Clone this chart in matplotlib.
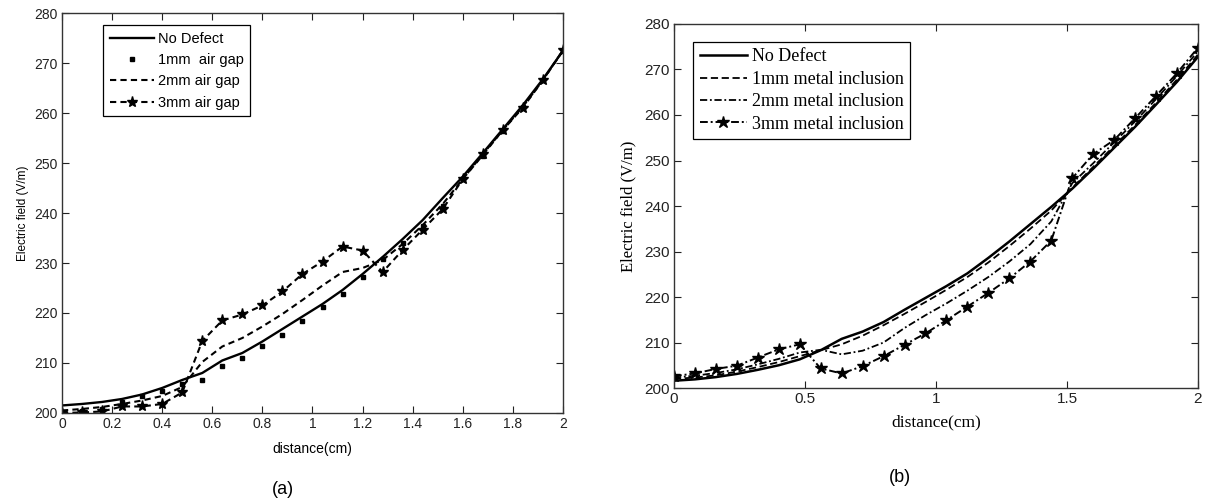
import matplotlib
matplotlib.use("Agg")
import matplotlib.pyplot as plt
import numpy as np

# x positions of the sampled points (cm), same grid for both panels
dist = [0.00, 0.08, 0.16, 0.24, 0.32, 0.40, 0.48, 0.56, 0.64, 0.72, 0.80, 0.88, 0.96,
        1.04, 1.12, 1.20, 1.28, 1.36, 1.44, 1.52, 1.60, 1.68, 1.76, 1.84, 1.92, 2.00]

# (a) air gap defects
a_no_defect = [201.5, 201.8, 202.2, 202.8, 203.7, 205.0, 206.6, 208.0, 210.5, 212.0, 214.3, 216.8, 219.3,
               221.8, 224.6, 227.8, 231.2, 234.8, 238.6, 243.0, 247.3, 252.0, 256.8, 261.6, 266.8, 272.5]
a_gap_1mm = [200.2, 200.3, 200.7, 202.1, 203.3, 204.3, 205.7, 206.6, 209.3, 210.9, 213.4, 215.6, 218.3,
             221.1, 223.8, 227.3, 230.8, 234.0, 237.5, 241.5, 246.8, 251.5, 256.5, 261.2, 266.6, 272.5]
a_gap_2mm = [200.5, 200.8, 201.2, 201.8, 202.5, 203.4, 205.2, 210.2, 213.3, 215.0, 217.3, 219.8, 222.6,
             225.5, 228.2, 229.0, 230.6, 233.8, 237.6, 241.8, 246.8, 251.6, 256.6, 261.3, 266.6, 272.5]
a_gap_3mm = [200.0, 200.1, 200.3, 201.3, 201.3, 201.8, 204.1, 214.4, 218.5, 219.7, 221.5, 224.3, 227.8,
             230.3, 233.3, 232.5, 228.2, 232.6, 236.7, 240.8, 246.8, 251.8, 256.6, 261.1, 266.6, 272.6]

# (b) metal inclusion defects
b_no_defect = [201.6, 201.9, 202.4, 203.1, 204.0, 205.0, 206.3, 208.3, 210.8, 212.4, 214.5, 217.2, 219.8,
               222.4, 225.2, 228.6, 232.2, 236.0, 239.8, 243.8, 248.2, 252.8, 257.4, 262.3, 267.3, 272.8]
b_metal_1mm = [202.0, 202.3, 202.8, 203.6, 204.6, 205.7, 207.0, 208.3, 209.6, 211.5, 213.8, 216.3, 218.9,
               221.6, 224.4, 227.6, 231.2, 235.0, 239.0, 244.0, 248.6, 253.2, 257.8, 262.7, 267.8, 273.3]
b_metal_2mm = [202.3, 202.7, 203.3, 204.1, 205.2, 206.4, 207.8, 208.4, 207.4, 208.2, 210.0, 213.2, 216.0,
               218.6, 221.4, 224.4, 227.8, 231.6, 236.6, 245.0, 249.4, 254.0, 258.6, 263.5, 268.6, 274.0]
b_metal_3mm = [202.6, 203.2, 204.2, 204.9, 206.7, 208.5, 209.6, 204.3, 203.2, 204.8, 207.0, 209.5, 212.0,
               214.9, 217.9, 220.9, 224.1, 227.8, 232.4, 246.1, 251.4, 254.5, 259.3, 264.2, 269.2, 274.8]

a_xticks = [0, 0.2, 0.4, 0.6, 0.8, 1, 1.2, 1.4, 1.6, 1.8, 2]
a_xlabels = ["0", "0.2", "0.4", "0.6", "0.8", "1", "1.2", "1.4", "1.6", "1.8", "2"]
b_xticks = [0, 0.5, 1, 1.5, 2]
b_xlabels = ["0", "0.5", "1", "1.5", "2"]
yticks = [200, 210, 220, 230, 240, 250, 260, 270, 280]

sans = "Liberation Sans"
serif = "Liberation Serif"

fig = plt.figure(figsize=(12.15, 5.03), dpi=100)
ax1 = fig.add_axes([0.051, 0.179, 0.4124, 0.795])
ax2 = fig.add_axes([0.5547, 0.2286, 0.4313, 0.7237])

for ax, fs in ((ax1, 10), (ax2, 11)):
    ax.set_ylim(200, 280)
    ax.set_xlim(0, 2)
    ax.set_yticks(yticks)
    ax.tick_params(direction="in", top=True, right=True, length=5, width=0.8,
                   labelsize=fs, pad=3, colors="#222222")
    for sp in ax.spines.values():
        sp.set_color("#333333")
        sp.set_linewidth(1.0)
    for lab in ax.get_yticklabels():
        lab.set_family(sans)

# panel (a)
ax1.plot(dist, a_no_defect, color="black", lw=1.7, label="No Defect")
ax1.plot(dist, a_gap_1mm, ls="none", marker="s", ms=3.2, color="black", label="1mm  air gap")
ax1.plot(dist, a_gap_2mm, color="black", lw=1.5, ls=(0, (3, 2)), label="2mm air gap")
ax1.plot(dist, a_gap_3mm, color="black", lw=1.5, ls=(0, (3, 2)), marker="*", ms=8,
         label="3mm air gap")
ax1.set_xticks(a_xticks)
ax1.set_xticklabels(a_xlabels, family=sans)
ax1.set_xlabel("distance(cm)", family=sans, fontsize=10, labelpad=8)
ax1.set_ylabel("Electric field (V/m)", family=sans, fontsize=8.5, labelpad=4)
leg1 = ax1.legend(loc="upper left", bbox_to_anchor=(0.068, 0.988), frameon=True, fancybox=False,
                  edgecolor="black", framealpha=1, prop={"family": sans, "size": 10.5},
                  handlelength=3.0, borderpad=0.45, labelspacing=0.5, handletextpad=0.3)
leg1.get_frame().set_linewidth(0.9)

# panel (b)
ax2.plot(dist, b_no_defect, color="black", lw=1.8, label="No Defect")
ax2.plot(dist, b_metal_1mm, color="black", lw=1.3, ls=(0, (4, 2)), label="1mm metal inclusion")
ax2.plot(dist, b_metal_2mm, color="black", lw=1.3, ls=(0, (4, 1.5, 1, 1.5)),
         label="2mm metal inclusion")
ax2.plot(dist, b_metal_3mm, color="black", lw=1.4, ls=(0, (4, 1.5, 1, 1.5)), marker="*", ms=9,
         label="3mm metal inclusion")
ax2.set_xticks(b_xticks)
ax2.set_xticklabels(b_xlabels, family=sans)
ax2.set_xlabel("distance(cm)", family=serif, fontsize=12.5, labelpad=6)
ax2.set_ylabel("Electric field (V/m)", family=serif, fontsize=12, labelpad=6)
leg2 = ax2.legend(loc="upper left", bbox_to_anchor=(0.02, 0.975), frameon=True, fancybox=False,
                  edgecolor="black", framealpha=1, prop={"family": serif, "size": 13},
                  handlelength=2.6, borderpad=0.35, labelspacing=0.3, handletextpad=0.3)
leg2.get_frame().set_linewidth(0.9)

fig.text(283 / 1215, 1 - 490 / 503, "(a)", family=sans, fontsize=13, ha="center", va="center")
fig.text(900 / 1215, 1 - 478 / 503, "(b)", family=sans, fontsize=13, ha="center", va="center")

fig.savefig("out.png", dpi=100)
